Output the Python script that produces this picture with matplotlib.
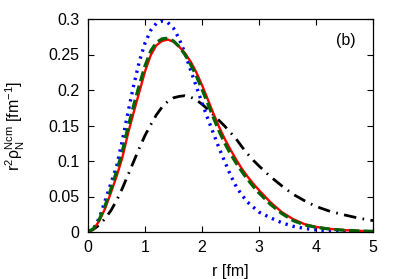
import matplotlib
matplotlib.use("Agg")
import matplotlib.pyplot as plt

plt.rcParams['font.family'] = ['Liberation Sans', 'DejaVu Sans']
plt.rcParams['mathtext.fontset'] = 'custom'
plt.rcParams['mathtext.rm'] = 'Liberation Sans'
plt.rcParams['mathtext.it'] = 'Liberation Sans:italic'

r = [0.0, 0.1, 0.2, 0.3, 0.4, 0.5, 0.6, 0.7, 0.8, 0.9, 1.0, 1.1, 1.2, 1.3, 1.4,
     1.5, 1.6, 1.7, 1.8, 1.9, 2.0, 2.1, 2.2, 2.3, 2.4, 2.5, 2.6, 2.7, 2.8, 2.9,
     3.0, 3.2, 3.4, 3.6, 3.8, 4.0, 4.25, 4.5, 4.75, 5.0]

red = [0.0, 0.004, 0.016, 0.033, 0.055, 0.078, 0.104, 0.138, 0.168, 0.197, 0.226,
       0.249, 0.263, 0.269, 0.271, 0.268, 0.261, 0.252, 0.240, 0.225, 0.207, 0.187,
       0.167, 0.148, 0.131, 0.116, 0.102, 0.089, 0.078, 0.068, 0.059, 0.042, 0.028,
       0.018, 0.011, 0.0072, 0.0043, 0.0026, 0.0016, 0.001]

green = [0.0, 0.005, 0.018, 0.037, 0.060, 0.085, 0.113, 0.147, 0.178, 0.207, 0.234,
         0.255, 0.267, 0.272, 0.273, 0.269, 0.261, 0.250, 0.236, 0.220, 0.201, 0.181,
         0.161, 0.142, 0.125, 0.110, 0.097, 0.085, 0.074, 0.064, 0.055, 0.039, 0.026,
         0.016, 0.010, 0.0066, 0.0040, 0.0024, 0.0015, 0.0009]

blue = [0.0, 0.005, 0.020, 0.044, 0.068, 0.092, 0.128, 0.168, 0.206, 0.240, 0.266,
        0.284, 0.294, 0.297, 0.295, 0.287, 0.272, 0.252, 0.228, 0.205, 0.182, 0.160,
        0.139, 0.118, 0.099, 0.080, 0.064, 0.052, 0.042, 0.035, 0.028, 0.020, 0.013,
        0.008, 0.005, 0.003, 0.0018, 0.001, 0.0006, 0.0003]

black = [0.0, 0.004, 0.010, 0.019, 0.030, 0.044, 0.061, 0.080, 0.099, 0.118, 0.136,
         0.151, 0.165, 0.176, 0.184, 0.189, 0.191, 0.192, 0.190, 0.186, 0.180, 0.173,
         0.165, 0.157, 0.149, 0.140, 0.131, 0.120, 0.110, 0.101, 0.093, 0.078, 0.065,
         0.053, 0.044, 0.036, 0.029, 0.024, 0.0195, 0.016]

xticks = [0, 1, 2, 3, 4, 5]
yticks = [0, 0.05, 0.1, 0.15, 0.2, 0.25, 0.3]
yticklabels = ['0', '0.05', '0.1', '0.15', '0.2', '0.25', '0.3']

fig = plt.figure(figsize=(3.99, 2.79), dpi=100)
ax = fig.add_axes([88/399, 1-232/279, 285/399, 213/279])

ax.plot(r, black, color='black', lw=2.0, linestyle=(0, (4.5, 2.3, 0.6, 2.3)))
ax.plot(r, blue, color='#0000ff', lw=2.4, linestyle=(0, (0.7, 1.5)))
ax.plot(r, red, color='#ff0000', lw=1.7, linestyle='-')
ax.plot(r, green, color='#006400', lw=2.3, linestyle=(0, (3.2, 1.4)))

ax.set_xlim(0, 5)
ax.set_ylim(0, 0.3)
ax.set_xticks(xticks)
ax.set_xticklabels([str(t) for t in xticks])
ax.set_yticks(yticks)
ax.set_yticklabels(yticklabels)
ax.tick_params(direction='in', top=True, right=True, length=4, width=0.8,
               labelsize=11.5, pad=6)
for s in ax.spines.values():
    s.set_linewidth(0.9)

ax.set_xlabel('r [fm]', fontsize=11.5)
ax.set_ylabel(r'$\mathrm{r}^{2}\mathrm{\rho}_{\mathrm{N}}^{\mathrm{Ncm}}$ [fm$^{-1}$]', fontsize=11.5)
ax.yaxis.set_label_coords(-0.215, 0.5)
ax.xaxis.set_label_coords(0.5, -0.15)
ax.text(0.905, 0.9, '(b)', transform=ax.transAxes, fontsize=11.5, ha='center', va='center')

fig.savefig('out.png', dpi=100)
